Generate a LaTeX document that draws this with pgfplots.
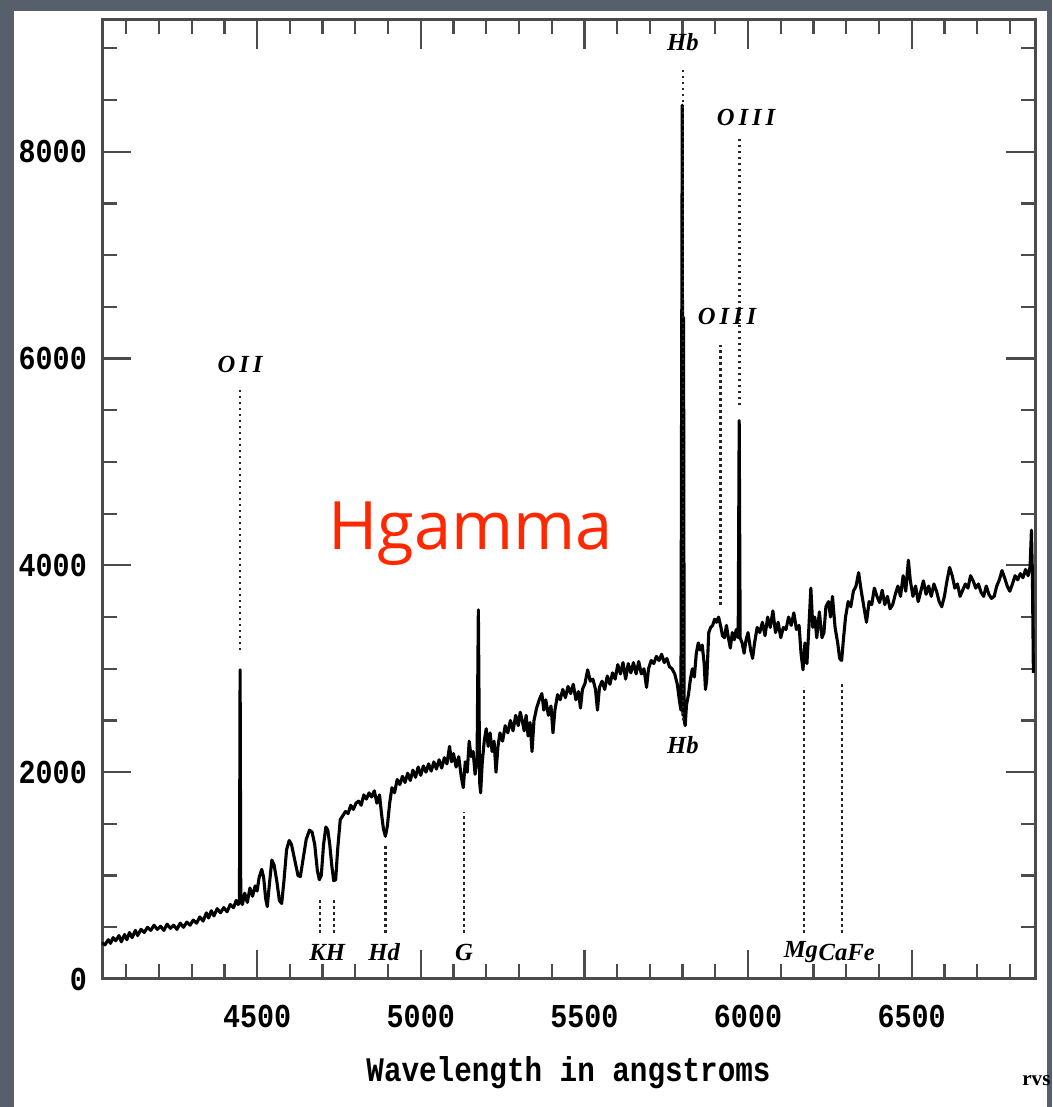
\documentclass[border=0pt]{standalone}
\usepackage{fontspec}
\usepackage{pgfplots}
\usepackage{pgfplotstable}
\pgfplotsset{compat=1.18}
\setmainfont{Liberation Serif}
\newfontfamily\monob{Liberation Mono}[FakeStretch=0.85]
\newfontfamily\lblfont{Liberation Serif}
\newfontfamily\lblwide{Liberation Serif}[LetterSpace=16]
\newfontfamily\slidefont{Open Sans}
\definecolor{slate}{RGB}{88,95,108}
\definecolor{hred}{RGB}{255,40,0}
\definecolor{axgray}{RGB}{75,75,75}

% spectrum (wavelength in A, counts)
\pgfplotstableread{
wl flux
4026 350
4035 330
4045 380
4052 345
4060 400
4068 370
4078 420
4085 360
4095 430
4102 380
4110 450
4118 400
4128 470
4135 420
4145 480
4155 450
4165 500
4175 470
4185 520
4195 480
4205 510
4215 470
4225 530
4235 490
4245 520
4255 480
4265 540
4275 500
4285 550
4295 520
4305 570
4315 540
4325 600
4335 560
4345 640
4352 590
4360 660
4368 610
4378 680
4388 640
4398 690
4408 650
4418 720
4428 690
4436 760
4442 720
4446 740
4448 2990
4450 760
4455 720
4462 830
4470 740
4478 880
4486 800
4494 900
4500 850
4506 980
4514 1060
4520 980
4526 780
4531 700
4537 900
4545 1150
4552 1100
4560 950
4568 760
4575 730
4582 950
4590 1250
4598 1340
4605 1300
4615 1150
4625 1000
4632 990
4640 1150
4650 1350
4660 1440
4668 1420
4676 1300
4684 1050
4690 960
4696 1000
4703 1300
4710 1470
4716 1440
4722 1300
4728 1100
4734 950
4740 960
4746 1250
4754 1540
4762 1580
4770 1620
4778 1600
4786 1680
4794 1640
4802 1700
4810 1720
4818 1680
4826 1780
4834 1740
4842 1800
4850 1760
4858 1820
4866 1700
4874 1780
4880 1600
4886 1450
4892 1380
4898 1480
4905 1700
4912 1850
4920 1800
4928 1930
4936 1880
4944 1960
4952 1900
4960 1990
4968 1920
4976 2020
4984 1950
4992 2050
5000 1970
5008 2060
5016 2000
5024 2080
5032 2010
5040 2100
5048 2030
5056 2120
5064 2040
5072 2140
5080 2080
5088 2250
5094 2100
5100 2180
5108 2050
5116 2150
5124 1950
5130 1850
5136 2100
5142 2000
5148 2300
5154 2150
5160 2200
5166 1980
5172 2100
5176 3570
5180 1900
5183 1800
5188 2100
5194 2300
5200 2420
5206 2250
5212 2380
5218 2200
5224 2300
5230 2000
5236 2250
5242 2380
5250 2300
5258 2450
5266 2380
5274 2500
5282 2400
5290 2550
5298 2450
5304 2580
5310 2500
5316 2400
5322 2550
5328 2350
5334 2480
5340 2200
5346 2500
5354 2620
5362 2700
5370 2760
5376 2600
5382 2700
5390 2550
5398 2640
5404 2380
5410 2600
5418 2750
5426 2700
5434 2800
5442 2720
5450 2830
5458 2760
5466 2850
5474 2700
5482 2780
5488 2620
5494 2800
5502 2860
5510 2990
5518 2880
5526 2900
5534 2800
5540 2600
5546 2820
5554 2880
5562 2800
5570 2930
5578 2850
5586 2960
5594 2900
5602 3040
5610 2950
5618 3060
5626 2900
5634 3050
5642 2960
5650 3060
5658 2950
5666 3070
5674 2950
5682 3000
5690 2820
5696 3000
5704 3080
5712 3050
5720 3120
5728 3080
5736 3140
5744 3060
5752 3100
5760 3020
5768 3000
5776 2950
5784 2850
5790 2700
5795 2600
5799 8450
5801 2550
5803 6400
5805 2500
5808 2450
5812 2650
5818 2750
5824 2900
5830 3000
5836 2920
5842 3150
5848 3250
5854 3180
5860 3230
5866 3050
5870 2800
5874 2900
5880 3350
5886 3400
5892 3420
5898 3480
5904 3450
5910 3500
5916 3420
5922 3320
5928 3300
5934 3420
5940 3300
5946 3200
5952 3350
5958 3280
5964 3380
5970 3300
5973 5400
5976 3300
5982 3250
5988 3150
5994 3280
6000 3350
6008 3180
6014 3100
6020 3250
6028 3400
6036 3350
6044 3450
6052 3320
6060 3500
6068 3400
6076 3560
6084 3350
6092 3450
6100 3300
6108 3400
6116 3380
6124 3500
6132 3420
6140 3540
6148 3380
6156 3420
6162 3150
6168 2990
6174 3250
6180 3050
6186 3400
6192 3780
6198 3400
6204 3500
6210 3300
6218 3550
6226 3300
6232 3350
6238 3600
6246 3650
6252 3500
6258 3700
6266 3400
6274 3250
6280 3100
6286 3080
6292 3300
6298 3500
6306 3650
6314 3600
6322 3750
6330 3800
6338 3930
6346 3750
6354 3600
6362 3450
6370 3650
6378 3620
6386 3780
6394 3700
6402 3640
6410 3760
6418 3620
6426 3700
6434 3580
6442 3620
6450 3720
6458 3800
6466 3700
6474 3900
6482 3750
6490 4050
6496 3850
6504 3700
6512 3800
6520 3650
6528 3750
6536 3850
6544 3720
6552 3800
6560 3700
6568 3820
6576 3750
6584 3650
6592 3600
6600 3700
6608 3850
6616 3980
6624 3900
6632 3780
6640 3820
6648 3700
6656 3760
6664 3820
6672 3780
6680 3900
6688 3850
6696 3780
6704 3820
6712 3740
6720 3700
6728 3800
6736 3720
6744 3680
6752 3700
6760 3800
6768 3860
6776 3950
6784 3880
6792 3800
6800 3750
6808 3820
6816 3900
6824 3860
6832 3920
6840 3880
6848 3960
6856 3900
6862 3990
6866 4340
6869 3900
6872 2960
}\spectrum

\begin{document}
\begin{tikzpicture}[
    lbl/.style={font=\lblfont\bfseries\itshape\fontsize{14}{15}\selectfont, inner sep=0pt},
    lblw/.style={font=\lblwide\bfseries\itshape\fontsize{14}{15}\selectfont, inner sep=0pt},
    dotline/.style={black!85, line width=0.55mm, dash pattern=on 0.5mm off 0.7mm},
]
\begin{scope}[x=0.2mm,y=0.2mm]
\useasboundingbox (0,0) rectangle (1052,1107);
\fill[slate] (0,0) rectangle (1052,1107);
\fill[white] (14,0) rectangle (1047,1096);
\node[anchor=base west, inner sep=0pt, font=\bfseries\fontsize{12}{12}\selectfont] at (1022,22) {rvs};
\end{scope}

\begin{axis}[
    at={(20.4mm,25.6mm)}, anchor=south west,
    scale only axis,
    width=186.6mm, height=191.8mm,
    xmin=4026, xmax=6877,
    ymin=0, ymax=9274,
    xtick={4500,5000,...,6500},
    minor xtick={4100,4200,...,6800},
    ytick={0,2000,...,8000},
    minor ytick={500,1000,...,9000},
    tick align=inside,
    major tick length=5.8mm,
    minor tick length=2.9mm,
    every tick/.style={axgray, line width=0.45mm},
    axis line style={axgray, line width=0.6mm},
    scaled ticks=false,
    /pgf/number format/set thousands separator={},
    /pgf/number format/assume math mode=true,
    ticklabel style={font=\monob\bfseries\fontsize{19}{20}\selectfont},
    xticklabel style={yshift=-4mm},
    yticklabel style={xshift=-1.8mm},
    xlabel={Wavelength in angstroms},
    every axis x label/.style={at={(axis description cs:0.5,0)}, anchor=center, yshift=-18.8mm,
        font=\monob\bfseries\fontsize{19.6}{20}\selectfont},
    clip=false,
]

\addplot[black, line width=0.62mm, line join=round] table[x=wl, y=flux] {\spectrum};

% line identifications
\addplot[dotline] coordinates {(4448,3180) (4448,5700)};
\addplot[dotline] coordinates {(5801,2500) (5801,8820)};
\addplot[dotline] coordinates {(5973,5550) (5973,8160)};
\addplot[dotline] coordinates {(5917,3620) (5917,6130)};
\addplot[dotline] coordinates {(4692,445) (4692,764)};
\addplot[dotline] coordinates {(4735,445) (4735,764)};
\addplot[dotline] coordinates {(4893,445) (4893,1296)};
\addplot[dotline] coordinates {(5132,445) (5132,1615)};
\addplot[dotline] coordinates {(6171,445) (6171,2824)};
\addplot[dotline] coordinates {(6287,445) (6287,2872)};

\node[lblw] at (axis cs:4448,5947) {OII};
\node[lbl] at (axis cs:5801,9061) {Hb};
\node[lblw] at (axis cs:5994,8335) {OIII};
\node[lblw] at (axis cs:5936,6402) {OIII};
\node[lbl] at (axis cs:5801,2263) {Hb};
\node[lbl] at (axis cs:4714,261) {KH};
\node[lbl] at (axis cs:4888,261) {Hd};
\node[lbl] at (axis cs:5132,261) {G};
\node[lbl, anchor=east] at (axis cs:6215,261) {Mg};
\node[lbl, anchor=west] at (axis cs:6215,261) {CaFe};
\end{axis}

\begin{scope}[x=0.2mm,y=0.2mm]
\node[anchor=base west, text=hred, font=\slidefont\fontsize{38}{40}\selectfont, inner sep=0pt] at (328,557) {Hgamma};
\end{scope}
\end{tikzpicture}
\end{document}
